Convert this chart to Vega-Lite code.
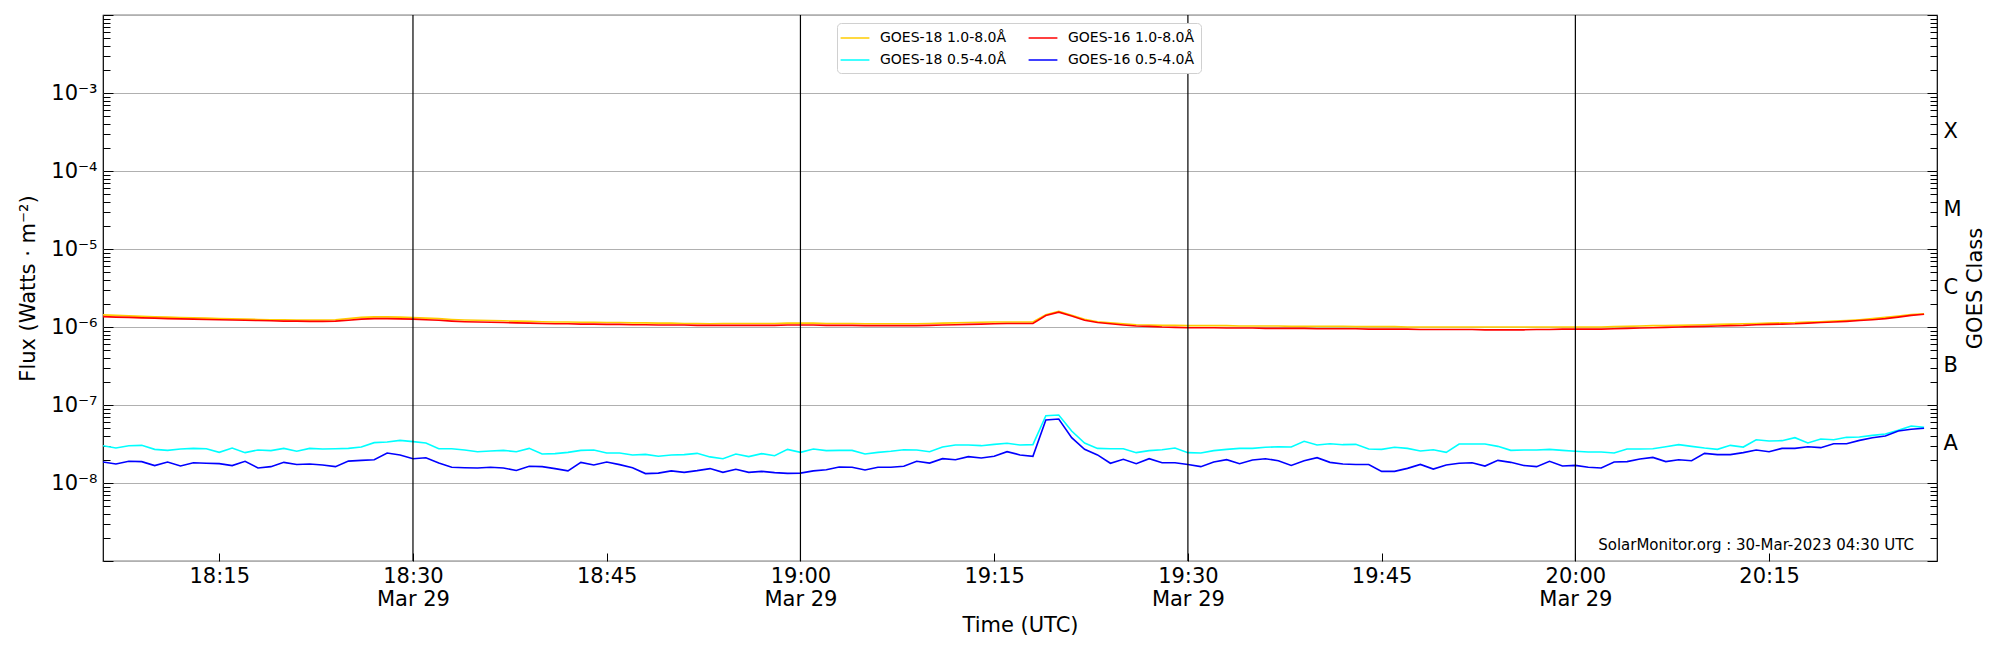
{
  "$schema": "https://vega.github.io/schema/vega-lite/v6.json",
  "width": 1834,
  "height": 546,
  "autosize": "none",
  "padding": {"left": 103, "top": 15, "right": 63, "bottom": 89},
  "background": "white",
  "config": {
    "font": "DejaVu Sans",
    "view": {"stroke": "black", "strokeWidth": 1.2},
    "axis": {
      "domain": false,
      "labelFont": "DejaVu Sans",
      "titleFont": "DejaVu Sans",
      "labelFontSize": 21,
      "titleFontSize": 21,
      "titleFontWeight": "normal",
      "labelColor": "black",
      "titleColor": "black",
      "tickColor": "black",
      "tickWidth": 1,
      "labelOverlap": false,
      "labelFlush": false
    }
  },
  "resolve": {"axis": {"y": "independent"}},
  "layer": [
    {
      "data": {
        "values": [
          {"t": "2023-03-29T18:06Z", "g18l": 1.43e-6, "g16l": 1.36e-6, "g18s": 3.00e-8, "g16s": 1.86e-8},
          {"t": "2023-03-29T18:07Z", "g18l": 1.41e-6, "g16l": 1.34e-6, "g18s": 2.81e-8, "g16s": 1.75e-8},
          {"t": "2023-03-29T18:08Z", "g18l": 1.39e-6, "g16l": 1.33e-6, "g18s": 3.00e-8, "g16s": 1.90e-8},
          {"t": "2023-03-29T18:09Z", "g18l": 1.37e-6, "g16l": 1.31e-6, "g18s": 3.04e-8, "g16s": 1.88e-8},
          {"t": "2023-03-29T18:10Z", "g18l": 1.35e-6, "g16l": 1.30e-6, "g18s": 2.70e-8, "g16s": 1.67e-8},
          {"t": "2023-03-29T18:11Z", "g18l": 1.34e-6, "g16l": 1.28e-6, "g18s": 2.62e-8, "g16s": 1.86e-8},
          {"t": "2023-03-29T18:12Z", "g18l": 1.32e-6, "g16l": 1.27e-6, "g18s": 2.73e-8, "g16s": 1.65e-8},
          {"t": "2023-03-29T18:13Z", "g18l": 1.31e-6, "g16l": 1.26e-6, "g18s": 2.78e-8, "g16s": 1.82e-8},
          {"t": "2023-03-29T18:14Z", "g18l": 1.30e-6, "g16l": 1.25e-6, "g18s": 2.75e-8, "g16s": 1.79e-8},
          {"t": "2023-03-29T18:15Z", "g18l": 1.28e-6, "g16l": 1.24e-6, "g18s": 2.47e-8, "g16s": 1.77e-8},
          {"t": "2023-03-29T18:16Z", "g18l": 1.27e-6, "g16l": 1.23e-6, "g18s": 2.81e-8, "g16s": 1.67e-8},
          {"t": "2023-03-29T18:17Z", "g18l": 1.26e-6, "g16l": 1.22e-6, "g18s": 2.45e-8, "g16s": 1.90e-8},
          {"t": "2023-03-29T18:18Z", "g18l": 1.25e-6, "g16l": 1.21e-6, "g18s": 2.65e-8, "g16s": 1.56e-8},
          {"t": "2023-03-29T18:19Z", "g18l": 1.24e-6, "g16l": 1.20e-6, "g18s": 2.60e-8, "g16s": 1.62e-8},
          {"t": "2023-03-29T18:20Z", "g18l": 1.24e-6, "g16l": 1.19e-6, "g18s": 2.78e-8, "g16s": 1.84e-8},
          {"t": "2023-03-29T18:21Z", "g18l": 1.23e-6, "g16l": 1.19e-6, "g18s": 2.55e-8, "g16s": 1.73e-8},
          {"t": "2023-03-29T18:22Z", "g18l": 1.23e-6, "g16l": 1.18e-6, "g18s": 2.78e-8, "g16s": 1.75e-8},
          {"t": "2023-03-29T18:23Z", "g18l": 1.23e-6, "g16l": 1.18e-6, "g18s": 2.73e-8, "g16s": 1.70e-8},
          {"t": "2023-03-29T18:24Z", "g18l": 1.24e-6, "g16l": 1.19e-6, "g18s": 2.75e-8, "g16s": 1.62e-8},
          {"t": "2023-03-29T18:25Z", "g18l": 1.28e-6, "g16l": 1.22e-6, "g18s": 2.78e-8, "g16s": 1.91e-8},
          {"t": "2023-03-29T18:26Z", "g18l": 1.33e-6, "g16l": 1.26e-6, "g18s": 2.89e-8, "g16s": 1.95e-8},
          {"t": "2023-03-29T18:27Z", "g18l": 1.35e-6, "g16l": 1.28e-6, "g18s": 3.29e-8, "g16s": 1.99e-8},
          {"t": "2023-03-29T18:28Z", "g18l": 1.35e-6, "g16l": 1.28e-6, "g18s": 3.35e-8, "g16s": 2.42e-8},
          {"t": "2023-03-29T18:29Z", "g18l": 1.34e-6, "g16l": 1.27e-6, "g18s": 3.52e-8, "g16s": 2.29e-8},
          {"t": "2023-03-29T18:30Z", "g18l": 1.32e-6, "g16l": 1.26e-6, "g18s": 3.39e-8, "g16s": 2.05e-8},
          {"t": "2023-03-29T18:31Z", "g18l": 1.30e-6, "g16l": 1.24e-6, "g18s": 3.26e-8, "g16s": 2.11e-8},
          {"t": "2023-03-29T18:32Z", "g18l": 1.28e-6, "g16l": 1.22e-6, "g18s": 2.75e-8, "g16s": 1.80e-8},
          {"t": "2023-03-29T18:33Z", "g18l": 1.25e-6, "g16l": 1.19e-6, "g18s": 2.75e-8, "g16s": 1.59e-8},
          {"t": "2023-03-29T18:34Z", "g18l": 1.23e-6, "g16l": 1.17e-6, "g18s": 2.65e-8, "g16s": 1.57e-8},
          {"t": "2023-03-29T18:35Z", "g18l": 1.22e-6, "g16l": 1.16e-6, "g18s": 2.52e-8, "g16s": 1.56e-8},
          {"t": "2023-03-29T18:36Z", "g18l": 1.21e-6, "g16l": 1.15e-6, "g18s": 2.57e-8, "g16s": 1.59e-8},
          {"t": "2023-03-29T18:37Z", "g18l": 1.20e-6, "g16l": 1.14e-6, "g18s": 2.62e-8, "g16s": 1.56e-8},
          {"t": "2023-03-29T18:38Z", "g18l": 1.19e-6, "g16l": 1.13e-6, "g18s": 2.52e-8, "g16s": 1.45e-8},
          {"t": "2023-03-29T18:39Z", "g18l": 1.18e-6, "g16l": 1.12e-6, "g18s": 2.78e-8, "g16s": 1.64e-8},
          {"t": "2023-03-29T18:40Z", "g18l": 1.17e-6, "g16l": 1.11e-6, "g18s": 2.35e-8, "g16s": 1.62e-8},
          {"t": "2023-03-29T18:41Z", "g18l": 1.16e-6, "g16l": 1.10e-6, "g18s": 2.38e-8, "g16s": 1.53e-8},
          {"t": "2023-03-29T18:42Z", "g18l": 1.16e-6, "g16l": 1.10e-6, "g18s": 2.47e-8, "g16s": 1.43e-8},
          {"t": "2023-03-29T18:43Z", "g18l": 1.15e-6, "g16l": 1.09e-6, "g18s": 2.62e-8, "g16s": 1.84e-8},
          {"t": "2023-03-29T18:44Z", "g18l": 1.15e-6, "g16l": 1.09e-6, "g18s": 2.65e-8, "g16s": 1.70e-8},
          {"t": "2023-03-29T18:45Z", "g18l": 1.14e-6, "g16l": 1.08e-6, "g18s": 2.42e-8, "g16s": 1.86e-8},
          {"t": "2023-03-29T18:46Z", "g18l": 1.14e-6, "g16l": 1.08e-6, "g18s": 2.42e-8, "g16s": 1.72e-8},
          {"t": "2023-03-29T18:47Z", "g18l": 1.13e-6, "g16l": 1.07e-6, "g18s": 2.29e-8, "g16s": 1.57e-8},
          {"t": "2023-03-29T18:48Z", "g18l": 1.13e-6, "g16l": 1.07e-6, "g18s": 2.33e-8, "g16s": 1.32e-8},
          {"t": "2023-03-29T18:49Z", "g18l": 1.12e-6, "g16l": 1.06e-6, "g18s": 2.20e-8, "g16s": 1.34e-8},
          {"t": "2023-03-29T18:50Z", "g18l": 1.12e-6, "g16l": 1.06e-6, "g18s": 2.29e-8, "g16s": 1.43e-8},
          {"t": "2023-03-29T18:51Z", "g18l": 1.11e-6, "g16l": 1.06e-6, "g18s": 2.31e-8, "g16s": 1.37e-8},
          {"t": "2023-03-29T18:52Z", "g18l": 1.11e-6, "g16l": 1.05e-6, "g18s": 2.40e-8, "g16s": 1.44e-8},
          {"t": "2023-03-29T18:53Z", "g18l": 1.10e-6, "g16l": 1.05e-6, "g18s": 2.16e-8, "g16s": 1.53e-8},
          {"t": "2023-03-29T18:54Z", "g18l": 1.11e-6, "g16l": 1.05e-6, "g18s": 2.05e-8, "g16s": 1.37e-8},
          {"t": "2023-03-29T18:55Z", "g18l": 1.11e-6, "g16l": 1.05e-6, "g18s": 2.35e-8, "g16s": 1.50e-8},
          {"t": "2023-03-29T18:56Z", "g18l": 1.11e-6, "g16l": 1.05e-6, "g18s": 2.18e-8, "g16s": 1.37e-8},
          {"t": "2023-03-29T18:57Z", "g18l": 1.11e-6, "g16l": 1.05e-6, "g18s": 2.38e-8, "g16s": 1.41e-8},
          {"t": "2023-03-29T18:58Z", "g18l": 1.11e-6, "g16l": 1.05e-6, "g18s": 2.24e-8, "g16s": 1.36e-8},
          {"t": "2023-03-29T18:59Z", "g18l": 1.12e-6, "g16l": 1.06e-6, "g18s": 2.70e-8, "g16s": 1.33e-8},
          {"t": "2023-03-29T19:00Z", "g18l": 1.12e-6, "g16l": 1.06e-6, "g18s": 2.47e-8, "g16s": 1.34e-8},
          {"t": "2023-03-29T19:01Z", "g18l": 1.12e-6, "g16l": 1.06e-6, "g18s": 2.73e-8, "g16s": 1.43e-8},
          {"t": "2023-03-29T19:02Z", "g18l": 1.11e-6, "g16l": 1.05e-6, "g18s": 2.60e-8, "g16s": 1.48e-8},
          {"t": "2023-03-29T19:03Z", "g18l": 1.11e-6, "g16l": 1.05e-6, "g18s": 2.62e-8, "g16s": 1.60e-8},
          {"t": "2023-03-29T19:04Z", "g18l": 1.11e-6, "g16l": 1.05e-6, "g18s": 2.62e-8, "g16s": 1.59e-8},
          {"t": "2023-03-29T19:05Z", "g18l": 1.10e-6, "g16l": 1.04e-6, "g18s": 2.35e-8, "g16s": 1.47e-8},
          {"t": "2023-03-29T19:06Z", "g18l": 1.10e-6, "g16l": 1.04e-6, "g18s": 2.47e-8, "g16s": 1.59e-8},
          {"t": "2023-03-29T19:07Z", "g18l": 1.10e-6, "g16l": 1.04e-6, "g18s": 2.55e-8, "g16s": 1.59e-8},
          {"t": "2023-03-29T19:08Z", "g18l": 1.10e-6, "g16l": 1.04e-6, "g18s": 2.67e-8, "g16s": 1.64e-8},
          {"t": "2023-03-29T19:09Z", "g18l": 1.10e-6, "g16l": 1.04e-6, "g18s": 2.65e-8, "g16s": 1.90e-8},
          {"t": "2023-03-29T19:10Z", "g18l": 1.11e-6, "g16l": 1.05e-6, "g18s": 2.52e-8, "g16s": 1.80e-8},
          {"t": "2023-03-29T19:11Z", "g18l": 1.12e-6, "g16l": 1.06e-6, "g18s": 2.89e-8, "g16s": 2.05e-8},
          {"t": "2023-03-29T19:12Z", "g18l": 1.13e-6, "g16l": 1.07e-6, "g18s": 3.07e-8, "g16s": 1.99e-8},
          {"t": "2023-03-29T19:13Z", "g18l": 1.14e-6, "g16l": 1.08e-6, "g18s": 3.07e-8, "g16s": 2.18e-8},
          {"t": "2023-03-29T19:14Z", "g18l": 1.15e-6, "g16l": 1.09e-6, "g18s": 3.01e-8, "g16s": 2.09e-8},
          {"t": "2023-03-29T19:15Z", "g18l": 1.16e-6, "g16l": 1.10e-6, "g18s": 3.13e-8, "g16s": 2.20e-8},
          {"t": "2023-03-29T19:16Z", "g18l": 1.16e-6, "g16l": 1.11e-6, "g18s": 3.23e-8, "g16s": 2.52e-8},
          {"t": "2023-03-29T19:17Z", "g18l": 1.16e-6, "g16l": 1.11e-6, "g18s": 3.07e-8, "g16s": 2.29e-8},
          {"t": "2023-03-29T19:18Z", "g18l": 1.16e-6, "g16l": 1.11e-6, "g18s": 3.10e-8, "g16s": 2.20e-8},
          {"t": "2023-03-29T19:19Z", "g18l": 1.44e-6, "g16l": 1.40e-6, "g18s": 7.30e-8, "g16s": 6.42e-8},
          {"t": "2023-03-29T19:20Z", "g18l": 1.59e-6, "g16l": 1.55e-6, "g18s": 7.44e-8, "g16s": 6.62e-8},
          {"t": "2023-03-29T19:21Z", "g18l": 1.41e-6, "g16l": 1.38e-6, "g18s": 4.64e-8, "g16s": 3.81e-8},
          {"t": "2023-03-29T19:22Z", "g18l": 1.26e-6, "g16l": 1.22e-6, "g18s": 3.26e-8, "g16s": 2.70e-8},
          {"t": "2023-03-29T19:23Z", "g18l": 1.17e-6, "g16l": 1.14e-6, "g18s": 2.78e-8, "g16s": 2.29e-8},
          {"t": "2023-03-29T19:24Z", "g18l": 1.13e-6, "g16l": 1.10e-6, "g18s": 2.75e-8, "g16s": 1.79e-8},
          {"t": "2023-03-29T19:25Z", "g18l": 1.10e-6, "g16l": 1.06e-6, "g18s": 2.75e-8, "g16s": 2.01e-8},
          {"t": "2023-03-29T19:26Z", "g18l": 1.07e-6, "g16l": 1.03e-6, "g18s": 2.45e-8, "g16s": 1.77e-8},
          {"t": "2023-03-29T19:27Z", "g18l": 1.06e-6, "g16l": 1.02e-6, "g18s": 2.60e-8, "g16s": 2.05e-8},
          {"t": "2023-03-29T19:28Z", "g18l": 1.05e-6, "g16l": 1.00e-6, "g18s": 2.67e-8, "g16s": 1.82e-8},
          {"t": "2023-03-29T19:29Z", "g18l": 1.05e-6, "g16l": 0.99e-6, "g18s": 2.81e-8, "g16s": 1.82e-8},
          {"t": "2023-03-29T19:30Z", "g18l": 1.04e-6, "g16l": 0.98e-6, "g18s": 2.45e-8, "g16s": 1.73e-8},
          {"t": "2023-03-29T19:31Z", "g18l": 1.04e-6, "g16l": 0.98e-6, "g18s": 2.42e-8, "g16s": 1.62e-8},
          {"t": "2023-03-29T19:32Z", "g18l": 1.04e-6, "g16l": 0.98e-6, "g18s": 2.60e-8, "g16s": 1.86e-8},
          {"t": "2023-03-29T19:33Z", "g18l": 1.04e-6, "g16l": 0.97e-6, "g18s": 2.70e-8, "g16s": 1.99e-8},
          {"t": "2023-03-29T19:34Z", "g18l": 1.03e-6, "g16l": 0.97e-6, "g18s": 2.78e-8, "g16s": 1.77e-8},
          {"t": "2023-03-29T19:35Z", "g18l": 1.03e-6, "g16l": 0.97e-6, "g18s": 2.78e-8, "g16s": 1.97e-8},
          {"t": "2023-03-29T19:36Z", "g18l": 1.03e-6, "g16l": 0.96e-6, "g18s": 2.87e-8, "g16s": 2.05e-8},
          {"t": "2023-03-29T19:37Z", "g18l": 1.03e-6, "g16l": 0.96e-6, "g18s": 2.92e-8, "g16s": 1.93e-8},
          {"t": "2023-03-29T19:38Z", "g18l": 1.02e-6, "g16l": 0.96e-6, "g18s": 2.89e-8, "g16s": 1.68e-8},
          {"t": "2023-03-29T19:39Z", "g18l": 1.02e-6, "g16l": 0.96e-6, "g18s": 3.42e-8, "g16s": 1.93e-8},
          {"t": "2023-03-29T19:40Z", "g18l": 1.02e-6, "g16l": 0.95e-6, "g18s": 3.07e-8, "g16s": 2.11e-8},
          {"t": "2023-03-29T19:41Z", "g18l": 1.02e-6, "g16l": 0.95e-6, "g18s": 3.19e-8, "g16s": 1.84e-8},
          {"t": "2023-03-29T19:42Z", "g18l": 1.02e-6, "g16l": 0.95e-6, "g18s": 3.10e-8, "g16s": 1.75e-8},
          {"t": "2023-03-29T19:43Z", "g18l": 1.01e-6, "g16l": 0.95e-6, "g18s": 3.13e-8, "g16s": 1.73e-8},
          {"t": "2023-03-29T19:44Z", "g18l": 1.01e-6, "g16l": 0.94e-6, "g18s": 2.73e-8, "g16s": 1.73e-8},
          {"t": "2023-03-29T19:45Z", "g18l": 1.01e-6, "g16l": 0.94e-6, "g18s": 2.70e-8, "g16s": 1.41e-8},
          {"t": "2023-03-29T19:46Z", "g18l": 1.01e-6, "g16l": 0.94e-6, "g18s": 2.87e-8, "g16s": 1.41e-8},
          {"t": "2023-03-29T19:47Z", "g18l": 1.00e-6, "g16l": 0.94e-6, "g18s": 2.78e-8, "g16s": 1.54e-8},
          {"t": "2023-03-29T19:48Z", "g18l": 1.00e-6, "g16l": 0.93e-6, "g18s": 2.57e-8, "g16s": 1.73e-8},
          {"t": "2023-03-29T19:49Z", "g18l": 1.00e-6, "g16l": 0.93e-6, "g18s": 2.67e-8, "g16s": 1.51e-8},
          {"t": "2023-03-29T19:50Z", "g18l": 1.00e-6, "g16l": 0.93e-6, "g18s": 2.47e-8, "g16s": 1.70e-8},
          {"t": "2023-03-29T19:51Z", "g18l": 1.00e-6, "g16l": 0.93e-6, "g18s": 3.16e-8, "g16s": 1.79e-8},
          {"t": "2023-03-29T19:52Z", "g18l": 1.00e-6, "g16l": 0.93e-6, "g18s": 3.16e-8, "g16s": 1.82e-8},
          {"t": "2023-03-29T19:53Z", "g18l": 1.00e-6, "g16l": 0.92e-6, "g18s": 3.16e-8, "g16s": 1.65e-8},
          {"t": "2023-03-29T19:54Z", "g18l": 1.00e-6, "g16l": 0.92e-6, "g18s": 2.95e-8, "g16s": 1.95e-8},
          {"t": "2023-03-29T19:55Z", "g18l": 1.00e-6, "g16l": 0.92e-6, "g18s": 2.62e-8, "g16s": 1.84e-8},
          {"t": "2023-03-29T19:56Z", "g18l": 1.00e-6, "g16l": 0.92e-6, "g18s": 2.65e-8, "g16s": 1.68e-8},
          {"t": "2023-03-29T19:57Z", "g18l": 1.00e-6, "g16l": 0.93e-6, "g18s": 2.65e-8, "g16s": 1.62e-8},
          {"t": "2023-03-29T19:58Z", "g18l": 1.00e-6, "g16l": 0.93e-6, "g18s": 2.70e-8, "g16s": 1.90e-8},
          {"t": "2023-03-29T19:59Z", "g18l": 1.00e-6, "g16l": 0.94e-6, "g18s": 2.62e-8, "g16s": 1.65e-8},
          {"t": "2023-03-29T20:00Z", "g18l": 1.00e-6, "g16l": 0.94e-6, "g18s": 2.55e-8, "g16s": 1.68e-8},
          {"t": "2023-03-29T20:01Z", "g18l": 1.00e-6, "g16l": 0.94e-6, "g18s": 2.50e-8, "g16s": 1.59e-8},
          {"t": "2023-03-29T20:02Z", "g18l": 1.00e-6, "g16l": 0.94e-6, "g18s": 2.50e-8, "g16s": 1.56e-8},
          {"t": "2023-03-29T20:03Z", "g18l": 1.01e-6, "g16l": 0.95e-6, "g18s": 2.42e-8, "g16s": 1.86e-8},
          {"t": "2023-03-29T20:04Z", "g18l": 1.02e-6, "g16l": 0.96e-6, "g18s": 2.73e-8, "g16s": 1.88e-8},
          {"t": "2023-03-29T20:05Z", "g18l": 1.03e-6, "g16l": 0.97e-6, "g18s": 2.73e-8, "g16s": 2.03e-8},
          {"t": "2023-03-29T20:06Z", "g18l": 1.04e-6, "g16l": 0.98e-6, "g18s": 2.75e-8, "g16s": 2.13e-8},
          {"t": "2023-03-29T20:07Z", "g18l": 1.04e-6, "g16l": 0.99e-6, "g18s": 2.92e-8, "g16s": 1.88e-8},
          {"t": "2023-03-29T20:08Z", "g18l": 1.05e-6, "g16l": 1.00e-6, "g18s": 3.10e-8, "g16s": 1.99e-8},
          {"t": "2023-03-29T20:09Z", "g18l": 1.06e-6, "g16l": 1.01e-6, "g18s": 2.95e-8, "g16s": 1.93e-8},
          {"t": "2023-03-29T20:10Z", "g18l": 1.07e-6, "g16l": 1.02e-6, "g18s": 2.81e-8, "g16s": 2.40e-8},
          {"t": "2023-03-29T20:11Z", "g18l": 1.08e-6, "g16l": 1.03e-6, "g18s": 2.70e-8, "g16s": 2.31e-8},
          {"t": "2023-03-29T20:12Z", "g18l": 1.09e-6, "g16l": 1.04e-6, "g18s": 3.04e-8, "g16s": 2.31e-8},
          {"t": "2023-03-29T20:13Z", "g18l": 1.10e-6, "g16l": 1.05e-6, "g18s": 2.89e-8, "g16s": 2.45e-8},
          {"t": "2023-03-29T20:14Z", "g18l": 1.11e-6, "g16l": 1.07e-6, "g18s": 3.59e-8, "g16s": 2.65e-8},
          {"t": "2023-03-29T20:15Z", "g18l": 1.12e-6, "g16l": 1.08e-6, "g18s": 3.45e-8, "g16s": 2.52e-8},
          {"t": "2023-03-29T20:16Z", "g18l": 1.13e-6, "g16l": 1.09e-6, "g18s": 3.49e-8, "g16s": 2.78e-8},
          {"t": "2023-03-29T20:17Z", "g18l": 1.14e-6, "g16l": 1.10e-6, "g18s": 3.81e-8, "g16s": 2.78e-8},
          {"t": "2023-03-29T20:18Z", "g18l": 1.16e-6, "g16l": 1.12e-6, "g18s": 3.26e-8, "g16s": 2.92e-8},
          {"t": "2023-03-29T20:19Z", "g18l": 1.17e-6, "g16l": 1.14e-6, "g18s": 3.66e-8, "g16s": 2.84e-8},
          {"t": "2023-03-29T20:20Z", "g18l": 1.19e-6, "g16l": 1.16e-6, "g18s": 3.59e-8, "g16s": 3.19e-8},
          {"t": "2023-03-29T20:21Z", "g18l": 1.21e-6, "g16l": 1.18e-6, "g18s": 3.85e-8, "g16s": 3.19e-8},
          {"t": "2023-03-29T20:22Z", "g18l": 1.24e-6, "g16l": 1.21e-6, "g18s": 3.89e-8, "g16s": 3.52e-8},
          {"t": "2023-03-29T20:23Z", "g18l": 1.28e-6, "g16l": 1.24e-6, "g18s": 4.08e-8, "g16s": 3.81e-8},
          {"t": "2023-03-29T20:24Z", "g18l": 1.33e-6, "g16l": 1.28e-6, "g18s": 4.25e-8, "g16s": 4.01e-8},
          {"t": "2023-03-29T20:25Z", "g18l": 1.38e-6, "g16l": 1.34e-6, "g18s": 4.73e-8, "g16s": 4.64e-8},
          {"t": "2023-03-29T20:26Z", "g18l": 1.44e-6, "g16l": 1.41e-6, "g18s": 5.38e-8, "g16s": 4.88e-8},
          {"t": "2023-03-29T20:27Z", "g18l": 1.48e-6, "g16l": 1.46e-6, "g18s": 5.17e-8, "g16s": 5.03e-8}
        ]
      },
      "transform": [
        {"fold": ["g18l", "g16l", "g18s", "g16s"], "as": ["series", "flux"]}
      ],
      "mark": {"type": "line", "strokeWidth": 1.6, "clip": true},
      "encoding": {
        "x": {
          "field": "t",
          "type": "temporal",
          "title": "Time (UTC)",
          "scale": {
            "type": "utc",
            "domain": [
              {"year": 2023, "month": 3, "date": 29, "hours": 18, "minutes": 6, "utc": true},
              {"year": 2023, "month": 3, "date": 29, "hours": 20, "minutes": 28, "utc": true}
            ]
          },
          "axis": {
            "values": [
              {"year": 2023, "month": 3, "date": 29, "hours": 18, "minutes": 15, "utc": true},
              {"year": 2023, "month": 3, "date": 29, "hours": 18, "minutes": 30, "utc": true},
              {"year": 2023, "month": 3, "date": 29, "hours": 18, "minutes": 45, "utc": true},
              {"year": 2023, "month": 3, "date": 29, "hours": 19, "minutes": 0, "utc": true},
              {"year": 2023, "month": 3, "date": 29, "hours": 19, "minutes": 15, "utc": true},
              {"year": 2023, "month": 3, "date": 29, "hours": 19, "minutes": 30, "utc": true},
              {"year": 2023, "month": 3, "date": 29, "hours": 19, "minutes": 45, "utc": true},
              {"year": 2023, "month": 3, "date": 29, "hours": 20, "minutes": 0, "utc": true},
              {"year": 2023, "month": 3, "date": 29, "hours": 20, "minutes": 15, "utc": true}
            ],
            "labelExpr": "utcminutes(datum.value) % 30 == 0 ? [utcFormat(datum.value, '%H:%M'), utcFormat(datum.value, '%b %d')] : utcFormat(datum.value, '%H:%M')",
            "labelLineHeight": 23,
            "grid": false,
            "tickSize": -8,
            "labelPadding": 12,
            "titlePadding": 5
          }
        },
        "y": {
          "field": "flux",
          "type": "quantitative",
          "title": "Flux (Watts · m⁻²)",
          "scale": {"type": "log", "domain": [1e-9, 1e-2], "nice": false},
          "axis": {
            "orient": "left",
            "values": [1e-9, 2e-9, 3e-9, 4e-9, 5e-9, 6e-9, 7e-9, 8e-9, 9e-9,
              1e-8, 2e-8, 3e-8, 4e-8, 5e-8, 6e-8, 7e-8, 8e-8, 9e-8,
              1e-7, 2e-7, 3e-7, 4e-7, 5e-7, 6e-7, 7e-7, 8e-7, 9e-7,
              1e-6, 2e-6, 3e-6, 4e-6, 5e-6, 6e-6, 7e-6, 8e-6, 9e-6,
              1e-5, 2e-5, 3e-5, 4e-5, 5e-5, 6e-5, 7e-5, 8e-5, 9e-5,
              1e-4, 2e-4, 3e-4, 4e-4, 5e-4, 6e-4, 7e-4, 8e-4, 9e-4,
              1e-3, 2e-3, 3e-3, 4e-3, 5e-3, 6e-3, 7e-3, 8e-3, 9e-3, 1e-2],
            "labelExpr": "abs(log(datum.value)/LN10 - round(log(datum.value)/LN10)) < 0.01 && datum.value > 5e-9 && datum.value < 5e-3 ? '10⁻' + ['⁰','¹','²','³','⁴','⁵','⁶','⁷','⁸','⁹'][-round(log(datum.value)/LN10)] : ''",
            "tickSize": {"condition": {"test": "abs(log(datum.value)/LN10 - round(log(datum.value)/LN10)) < 0.01", "value": -10}, "value": -7},
            "labelPadding": 16,
            "grid": true,
            "gridColor": "#b0b0b0",
            "gridWidth": 1,
            "gridOpacity": {"condition": {"test": "abs(log(datum.value)/LN10 - round(log(datum.value)/LN10)) < 0.01", "value": 1}, "value": 0},
            "titlePadding": 12
          }
        },
        "color": {
          "field": "series",
          "type": "nominal",
          "scale": {
            "domain": ["g18l", "g16l", "g18s", "g16s"],
            "range": ["#ffcc00", "#ff0000", "#00ffff", "#0000ff"]
          },
          "legend": {
            "title": null,
            "orient": "none",
            "legendX": 734,
            "legendY": 8,
            "direction": "horizontal",
            "columns": 2,
            "columnPadding": 18,
            "rowPadding": 6,
            "padding": 6,
            "symbolType": "M-1.8,0H1.8",
            "symbolSize": 256,
            "symbolStrokeWidth": 1.5,
            "symbolOffset": 3,
            "labelOffset": 16,
            "labelFont": "DejaVu Sans",
            "labelFontSize": 14,
            "labelColor": "black",
            "strokeColor": "#d0d0d0",
            "cornerRadius": 4,
            "fillColor": "white",
            "labelExpr": "datum.label == 'g18l' ? 'GOES-18 1.0-8.0Å' : datum.label == 'g16l' ? 'GOES-16 1.0-8.0Å' : datum.label == 'g18s' ? 'GOES-18 0.5-4.0Å' : 'GOES-16 0.5-4.0Å'"
          }
        }
      }
    },
    {
      "data": {
        "values": [
          {"t": "2023-03-29T18:30Z"},
          {"t": "2023-03-29T19:00Z"},
          {"t": "2023-03-29T19:30Z"},
          {"t": "2023-03-29T20:00Z"}
        ]
      },
      "mark": {"type": "rule", "color": "black", "strokeWidth": 1.2},
      "encoding": {
        "x": {"field": "t", "type": "temporal", "title": "Time (UTC)"}
      }
    },
    {
      "data": {"values": [{}]},
      "mark": {
        "type": "text",
        "text": "SolarMonitor.org : 30-Mar-2023 04:30 UTC",
        "align": "right",
        "baseline": "middle",
        "font": "DejaVu Sans",
        "fontSize": 15,
        "color": "black"
      },
      "encoding": {
        "x": {
          "datum": {"year": 2023, "month": 3, "date": 29, "hours": 20, "minutes": 26, "seconds": 13, "utc": true},
          "type": "temporal",
          "title": "Time (UTC)"
        },
        "y": {
          "datum": 1.585e-9,
          "type": "quantitative",
          "axis": {
            "orient": "right",
            "title": "GOES Class",
            "values": [1e-9, 2e-9, 3e-9, 4e-9, 5e-9, 6e-9, 7e-9, 8e-9, 9e-9,
              1e-8, 2e-8, 3e-8, 4e-8, 5e-8, 6e-8, 7e-8, 8e-8, 9e-8,
              1e-7, 2e-7, 3e-7, 4e-7, 5e-7, 6e-7, 7e-7, 8e-7, 9e-7,
              1e-6, 2e-6, 3e-6, 4e-6, 5e-6, 6e-6, 7e-6, 8e-6, 9e-6,
              1e-5, 2e-5, 3e-5, 4e-5, 5e-5, 6e-5, 7e-5, 8e-5, 9e-5,
              1e-4, 2e-4, 3e-4, 4e-4, 5e-4, 6e-4, 7e-4, 8e-4, 9e-4,
              1e-3, 2e-3, 3e-3, 4e-3, 5e-3, 6e-3, 7e-3, 8e-3, 9e-3, 1e-2,
              3.1623e-8, 3.1623e-7, 3.1623e-6, 3.1623e-5, 3.1623e-4],
            "labelExpr": "abs(abs(log(datum.value)/LN10 - round(log(datum.value)/LN10)) - 0.5) < 0.01 ? ['A','B','C','M','X'][round(log(datum.value)/LN10 + 7.5)] : ''",
            "tickSize": {"condition": {"test": "abs(log(datum.value)/LN10 - round(log(datum.value)/LN10)) < 0.01", "value": -10}, "value": -7},
            "tickOpacity": {"condition": {"test": "abs(abs(log(datum.value)/LN10 - round(log(datum.value)/LN10)) - 0.5) < 0.01", "value": 0}, "value": 1},
            "labelPadding": 13,
            "labelAlign": "left",
            "grid": false,
            "titleAngle": 270,
            "titleBaseline": "top",
            "titlePadding": 3
          }
        }
      }
    }
  ]
}
